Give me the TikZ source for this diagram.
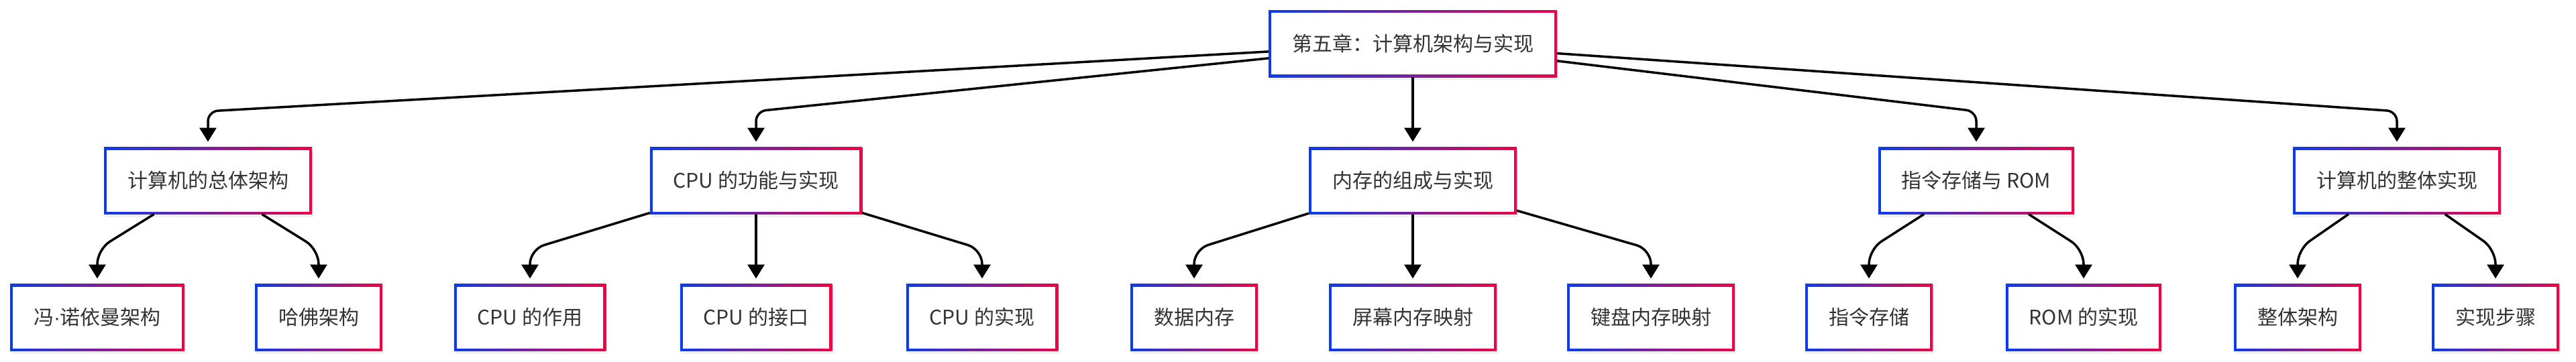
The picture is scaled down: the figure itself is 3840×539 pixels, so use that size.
\documentclass[tikz,border=0pt]{standalone}
\usepackage{fontspec}
\setmainfont{Noto Sans CJK SC}
\newfontfamily\dotfont{Liberation Sans}
\usetikzlibrary{arrows.meta,shadows,calc}
\definecolor{gblue}{RGB}{10,60,240}
\definecolor{gred}{RGB}{240,0,70}
\definecolor{tgray}{RGB}{51,51,51}
\begin{document}
\begin{tikzpicture}[x=1pt,y=-1pt,
  gbox/.style={rectangle, minimum height=100pt, inner xsep=35pt, inner ysep=0pt, outer sep=0pt,
    left color=gblue, right color=gred,
    drop shadow={opacity=0.12, shadow xshift=2pt, shadow yshift=-4pt},
    path picture={\fill[white] ($(path picture bounding box.north west)+(4pt,-4pt)$) rectangle ($(path picture bounding box.south east)+(-4pt,4pt)$);},
    font=\fontsize{30pt}{36pt}\selectfont, text=tgray},
  conn/.style={line width=3.5pt, -{Triangle[length=21pt,width=25pt]}, shorten >=8pt},
  c1/.style={rounded corners=15pt},
  c2/.style={rounded corners=22pt}
]
\useasboundingbox (0,0) rectangle (3840,539);
\node[gbox] (r) at (2106,65) {第五章：计算机架构与实现};
\node[gbox] (a1) at (310,269.5) {计算机的总体架构};
\node[gbox] (a2) at (1127,269.5) {CPU 的功能与实现};
\node[gbox] (a3) at (2106,269.5) {内存的组成与实现};
\node[gbox] (a4) at (2946,269.5) {指令存储与 ROM};
\node[gbox] (a5) at (3573,269.5) {计算机的整体实现};
\node[gbox] (b1) at (145,473.5) {冯{\dotfont ·}诺依曼架构};
\node[gbox] (b2) at (475,473.5) {哈佛架构};
\node[gbox] (b3) at (790,473.5) {CPU 的作用};
\node[gbox] (b4) at (1127,473.5) {CPU 的接口};
\node[gbox] (b5) at (1464,473.5) {CPU 的实现};
\node[gbox] (b6) at (1780,473.5) {数据内存};
\node[gbox] (b7) at (2106,473.5) {屏幕内存映射};
\node[gbox] (b8) at (2461,473.5) {键盘内存映射};
\node[gbox] (b9) at (2786,473.5) {指令存储};
\node[gbox] (b10) at (3106,473.5) {ROM 的实现};
\node[gbox] (b11) at (3425,473.5) {整体架构};
\node[gbox] (b12) at (3720,473.5) {实现步骤};
\foreach \c in {a1,a2,a4,a5}
  \draw[conn,c1] (r) -- (\c |- 0,166) -- (\c);
\draw[conn] (r) -- (a3);
\foreach \p/\c in {a1/b1,a1/b2,a2/b3,a2/b5,a3/b6,a3/b8,a4/b9,a4/b10,a5/b11,a5/b12}
  \draw[conn,c2] (\p) -- (\c |- 0,372) -- (\c);
\draw[conn] (a2) -- (b4);
\draw[conn] (a3) -- (b7);
\end{tikzpicture}
\end{document}
